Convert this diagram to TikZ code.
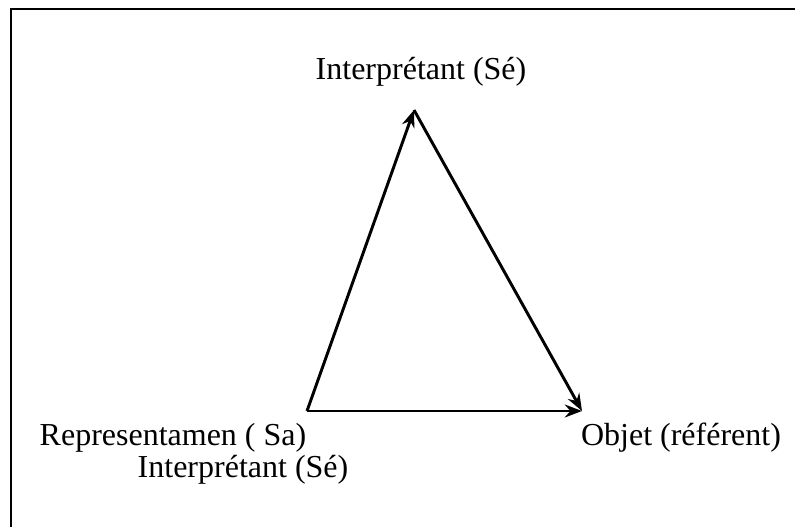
\documentclass[tikz,border=0pt]{standalone}
\usepackage{fontspec}
\setmainfont{Liberation Serif}
\usetikzlibrary{
    positioning,
    arrows.meta
}
\tikzset{
    >=Stealth,
    label/.style={
        inner sep=0pt,
        font=\fontsize{24}{28}\selectfont
    },
    side/.style={
        ->,
        line width=2.2pt
    }
}

\begin{document}
\begin{tikzpicture}[
    x=0.75pt,
    y=-0.75pt
]

    \useasboundingbox (0,0) rectangle (795,527);

    % Cadre
    \draw[line width=1.6pt] (11,527) -- (11,9) -- (795,9);

    % Sommets
    \coordinate (sa) at (307,411);
    \coordinate (se) at (414,110);
    \coordinate (ref) at (582,411);

    % Etiquettes
    \node[label] (top)  at (421,72)  {Interprétant (Sé)};
    \node[label] (repr) at (173,438) {Representamen ( Sa)};
    \node[label] (intp) at (243,470) {Interprétant (Sé)};
    \node[label] (obj)  at (681,438) {Objet (référent)};

    % Cotes
    \draw[side] (sa) -- (se);
    \draw[side] (se) -- (ref);
    \draw[side] (sa) -- (ref);

\end{tikzpicture}
\end{document}
